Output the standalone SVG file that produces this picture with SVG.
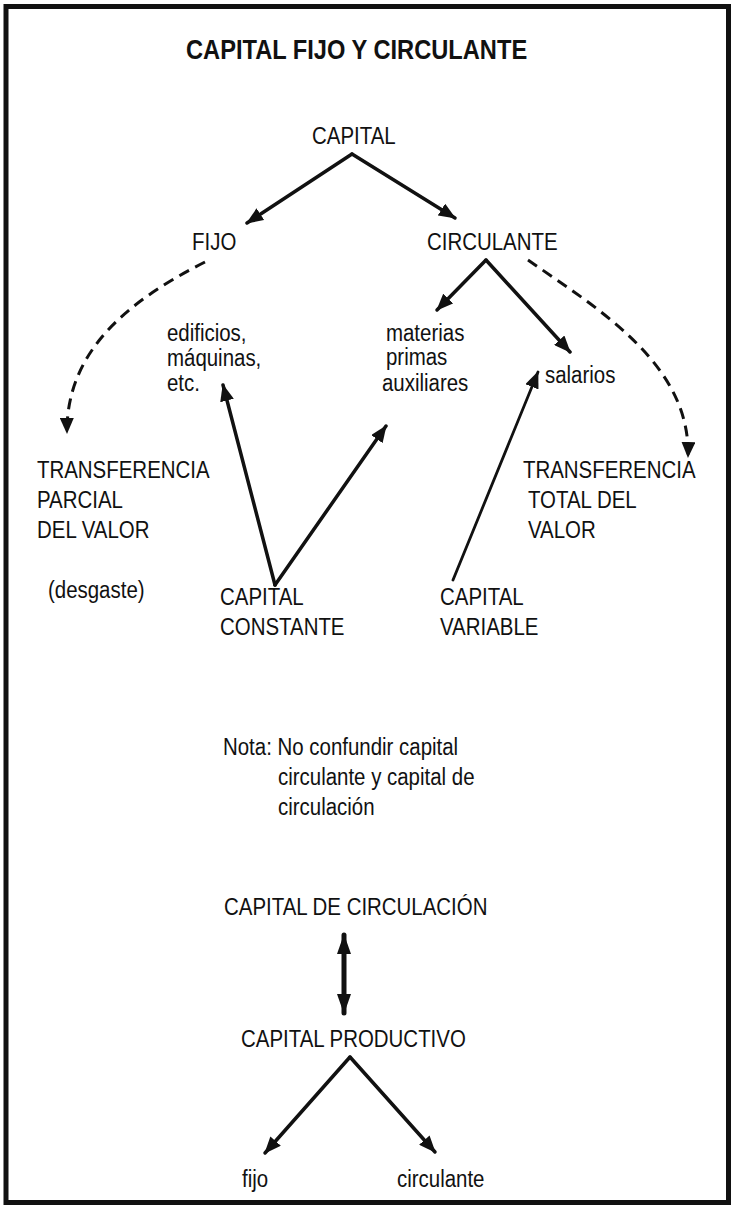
<svg xmlns="http://www.w3.org/2000/svg" width="731" height="1205" viewBox="0 0 731 1205">
<style>
text { font-family: "Liberation Sans", Arial, sans-serif; font-size: 23.5px; fill: #111; transform-box: fill-box; transform-origin: 0 0; transform: scaleX(0.87); }
.title { font-weight: bold; font-size: 28px; transform: scaleX(0.845); }
.ln { fill: none; stroke: #111; stroke-width: 3.5; stroke-linecap: round; }
.thin { stroke-width: 2.8; }
.dash { fill: none; stroke: #111; stroke-width: 3; stroke-dasharray: 11 7; }
</style>
<defs>
<marker id="ah" markerUnits="userSpaceOnUse" markerWidth="18" markerHeight="14" refX="16" refY="7" orient="auto" viewBox="0 0 18 14">
<path d="M0,0 L17,7 L0,14 z" fill="#111"/>
</marker>
<marker id="ahd" markerUnits="userSpaceOnUse" markerWidth="16" markerHeight="14" refX="15" refY="7" orient="auto" viewBox="0 0 16 14">
<path d="M0,0 L16,7 L0,14 z" fill="#111"/>
</marker>
<marker id="ahb" markerUnits="userSpaceOnUse" markerWidth="20" markerHeight="14" refX="19" refY="7" orient="auto-start-reverse" viewBox="0 0 20 14">
<path d="M0,0 L20,7 L0,14 z" fill="#111"/>
</marker>
</defs>
<rect x="6" y="6.5" width="722.5" height="1196" fill="#fff" stroke="#111" stroke-width="5"/>

<g id="title"><text class="title" x="186" y="59">CAPITAL FIJO Y CIRCULANTE</text></g>
<g id="capital"><text x="312" y="144">CAPITAL</text></g>
<g id="fijo"><text x="192" y="250">FIJO</text></g>
<g id="circulante"><text x="427" y="250">CIRCULANTE</text></g>
<g id="edificios"><text x="167" y="341">edificios,</text><text x="167" y="366">máquinas,</text><text x="167" y="391">etc.</text></g>
<g id="materias"><text x="386" y="341">materias</text><text x="386" y="365">primas</text><text x="382" y="391">auxiliares</text></g>
<g id="salarios"><text x="545" y="383">salarios</text></g>
<g id="transf-parcial"><text x="37" y="478">TRANSFERENCIA</text><text x="37" y="508">PARCIAL</text><text x="37" y="538">DEL VALOR</text></g>
<g id="desgaste"><text x="48" y="598">(desgaste)</text></g>
<g id="transf-total"><text x="523" y="478">TRANSFERENCIA</text><text x="528" y="508">TOTAL DEL</text><text x="528" y="538">VALOR</text></g>
<g id="capital-constante"><text x="220" y="605">CAPITAL</text><text x="220" y="635">CONSTANTE</text></g>
<g id="capital-variable"><text x="440" y="605">CAPITAL</text><text x="440" y="635">VARIABLE</text></g>
<g id="nota"><text x="223" y="755">Nota: No confundir capital</text><text x="278" y="785">circulante y capital de</text><text x="278" y="815">circulación</text></g>
<g id="capital-circulacion"><text x="224" y="915">CAPITAL DE CIRCULACIÓN</text></g>
<g id="capital-productivo"><text x="241" y="1047">CAPITAL PRODUCTIVO</text></g>
<g id="fijo2"><text x="242" y="1187">fijo</text></g>
<g id="circulante2"><text x="397" y="1187">circulante</text></g>

<g id="connectors">
<path class="ln" d="M352,154 L247,223" marker-end="url(#ah)"/>
<path class="ln" d="M352,154 L455,218" marker-end="url(#ah)"/>
<path class="ln" d="M486,260 L437,310" marker-end="url(#ah)"/>
<path class="ln" d="M486,260 L570,352" marker-end="url(#ah)"/>
<path class="dash" d="M205,262 C130,300 66,350 67,433" marker-end="url(#ahd)"/>
<path class="dash" d="M528,260 C600,310 691,365 688,457" marker-end="url(#ahd)"/>
<path class="ln" d="M275,585 L223,385" marker-end="url(#ah)"/>
<path class="ln" d="M275,585 L386,426" marker-end="url(#ah)"/>
<path class="ln thin" d="M453,580 L538,372" marker-end="url(#ah)"/>
<path class="ln" style="stroke-width:5" d="M344,935 L344,1013" marker-start="url(#ahb)" marker-end="url(#ahb)"/>
<path class="ln" d="M350,1057 L265,1153" marker-end="url(#ah)"/>
<path class="ln" d="M350,1057 L435,1152" marker-end="url(#ah)"/>
</g>
</svg>
